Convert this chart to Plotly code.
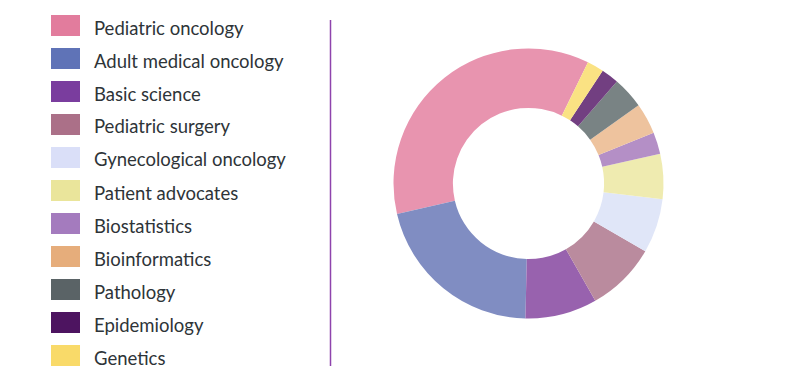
import plotly.graph_objects as go

categories = ["Pediatric oncology", "Adult medical oncology", "Basic science", "Pediatric surgery",
              "Gynecological oncology", "Patient advocates", "Biostatistics", "Bioinformatics",
              "Pathology", "Epidemiology", "Genetics"]
values = [35.9, 21.0, 8.6, 8.4, 6.5, 5.4, 2.6, 3.7, 3.8, 2.1, 2.0]
legend_colors = ["#E27C9D", "#5F73B7", "#7A3D9E", "#AB7088", "#DADFF8", "#EAE59B",
                 "#A47BBE", "#E6AD7B", "#5A6366", "#4D1460", "#F9DA69"]
slice_colors = ["#E894AF", "#808DC2", "#9862AE", "#BA8B9E", "#E0E6F8", "#EFEBB0",
                "#B48FC6", "#EEC39E", "#798384", "#723F81", "#FAE283"]

W, H = 800, 384
fig = go.Figure()
fig.add_trace(go.Pie(
    labels=categories, values=values, sort=False, direction="counterclockwise",
    rotation=-103.1, hole=0.56, textinfo="none", hoverinfo="label+percent",
    marker=dict(colors=slice_colors, line=dict(color="white", width=0)),
    domain=dict(x=[393.5 / W, 663.5 / W], y=[(H - 318.5) / H, (H - 48.5) / H]),
    showlegend=False,
))

shapes = []
annotations = []
top, step = 15, 33
for i, (name, col) in enumerate(zip(categories, legend_colors)):
    y0 = top + i * step
    shapes.append(dict(type="rect", xref="paper", yref="paper",
                       x0=51 / W, x1=80 / W, y0=1 - (y0 + 21) / H, y1=1 - y0 / H,
                       fillcolor=col, line=dict(width=0)))
    annotations.append(dict(text=name, xref="paper", yref="paper", x=92 / W, y=1 - (y0 + 12.5) / H,
                            xanchor="left", yanchor="middle", showarrow=False,
                            font=dict(family="Lato", size=18.5, color="#2E3438")))
shapes.append(dict(type="line", xref="paper", yref="paper", x0=330.5 / W, x1=330.5 / W,
                   y0=1 - 366 / H, y1=1 - 20 / H, line=dict(color="#8E44AD", width=1.5)))

fig.update_layout(width=W, height=H, margin=dict(l=0, r=0, t=0, b=0),
                  paper_bgcolor="white", plot_bgcolor="white",
                  shapes=shapes, annotations=annotations)
fig.write_html("out.html", config={"displayModeBar": False},
               post_script="document.body.style.margin='0';")
